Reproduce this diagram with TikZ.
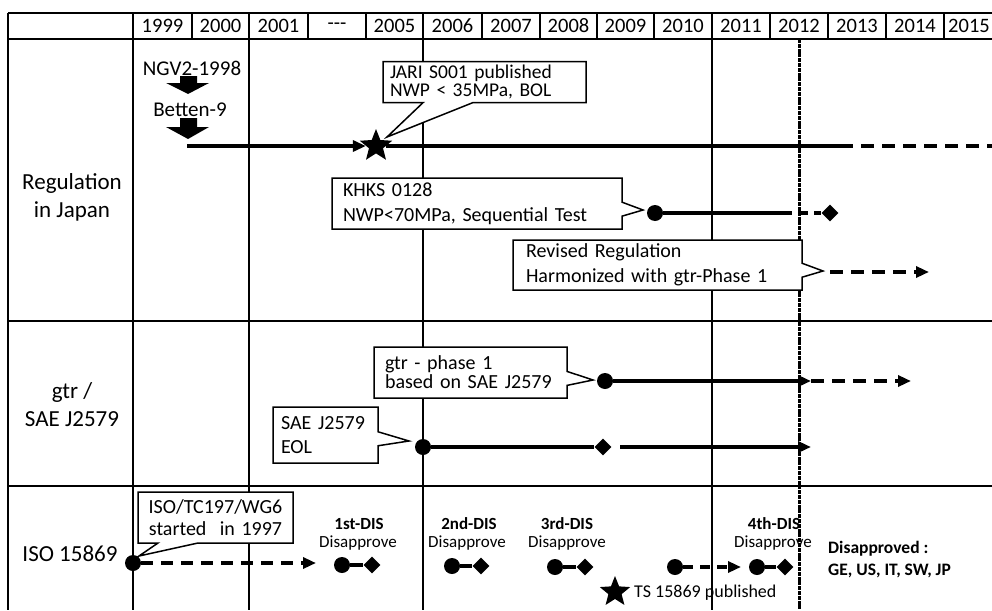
\documentclass[tikz,border=0pt]{standalone}
\usepackage{fontspec}
\setmainfont{Carlito}
\usetikzlibrary{shapes.geometric,shapes.callouts,arrows.meta}
\begin{document}
\begin{tikzpicture}[x=1pt,y=-1pt,
  grid/.style={line width=1.5pt},
  tl/.style={line width=3.2pt},
  tldash/.style={line width=3.2pt,dash pattern=on 13pt off 8pt},
  arr/.style={-{Triangle[length=13pt,width=11pt]}},
  yr/.style={font=\fontsize{20.5}{22}\selectfont,inner sep=0pt},
  lbl/.style={font=\fontsize{23}{28}\selectfont,align=center,inner sep=0pt},
  txt/.style={font=\fontsize{21}{22}\selectfont,inner sep=0pt},
  callbox/.style={rectangle callout,draw,line width=1.5pt,fill=white,align=left,
    inner xsep=10pt,inner ysep=1pt},
  cfont/.style={font=\fontsize{20}{#1}\selectfont},
  dotc/.style={circle,fill,inner sep=0pt,minimum size=16pt},
  diam/.style={diamond,fill,inner sep=0pt,minimum size=17pt},
  starc/.style={star,star points=5,star point ratio=2.3,fill,inner sep=0pt,minimum size=34pt},
  dis/.style={font=\fontsize{17}{18}\selectfont\bfseries,inner sep=0pt},
  disap/.style={font=\fontsize{17}{18}\selectfont,inner sep=0pt},
  bold/.style={font=\fontsize{17.5}{22}\selectfont\bfseries,align=left,inner sep=0pt},
  vdash/.style={line width=3pt,dash pattern=on 4pt off 0.8pt}
]
\useasboundingbox (0,0) rectangle (992,610);
% ---------------- grid
\draw[grid] (8,13) -- (992,13);
\draw[grid] (8,39) -- (992,39);
\draw[grid] (8,321) -- (992,321);
\draw[grid] (8,486) -- (992,486);
\draw[grid] (8,13) -- (8,610);
\draw[grid] (133,13) -- (133,610);
\foreach \x in {249,423,712} {\draw[grid] (\x,13) -- (\x,610);}
\foreach \x in {192,308,366,482,540,597,654,770,828,886,944} {\draw[grid] (\x,13) -- (\x,39);}
\draw[vdash] (799,39) -- (799,610);
% ---------------- header
\node[yr] (y1999) at (162.5,26) {1999};
\node[yr] (y2000) at (220.5,26) {2000};
\node[yr] (y2001) at (278.5,26) {2001};
\node[yr] (ydots) at (337,26) {{-}{-}{-}};
\node[yr] (y2005) at (394.5,26) {2005};
\node[yr] (y2006) at (452.5,26) {2006};
\node[yr] (y2007) at (511,26) {2007};
\node[yr] (y2008) at (568.5,26) {2008};
\node[yr] (y2009) at (625.5,26) {2009};
\node[yr] (y2010) at (683,26) {2010};
\node[yr] (y2011) at (741,26) {2011};
\node[yr] (y2012) at (799,26) {2012};
\node[yr] (y2013) at (857,26) {2013};
\node[yr] (y2014) at (915,26) {2014};
\node[yr] (y2015) at (969,26) {2015};
% ---------------- row labels
\node[lbl] (rjapan) at (72,197) {Regulation\\in Japan};
\node[lbl] (rgtr) at (72,405) {gtr /\\SAE J2579};
\node[lbl] (riso) at (70,554) {ISO 15869};
% ---------------- Japan row
\node[txt] (ngv) at (192,68) {NGV2-1998};
\node[txt] (betten) at (190,110) {Betten-9};
\fill (180,76) -- (197,76) -- (197,83) -- (209,83) -- (188,94) -- (166,83) -- (180,83) -- cycle;
\fill (180,118) -- (197,118) -- (197,127) -- (209,127) -- (188,139) -- (166,127) -- (180,127) -- cycle;
\coordinate (jstart) at (187,146);
\node[starc] (jstar) at (376,146) {};
\coordinate (jsolid) at (840,146);
\coordinate (jend) at (992,146);
\draw[tl,arr] (jstart) -- (jstar);
\draw[tl] (jstar) -- (jsolid);
\draw[tldash] (jsolid) -- (jend);
\node[callbox,font=\fontsize{19.5}{18.5}\selectfont,inner xsep=7pt,text width=189pt,minimum height=41pt,callout pointer width=50pt,
  callout absolute pointer={(387,137)}] (jari) at (484.5,82)
  {JARI S001 published\\NWP < 35MPa, BOL};
% KHKS
\node[dotc] (kdot) at (655,213) {};
\coordinate (kmid) at (782,213);
\node[diam] (kdia) at (830,213) {};
\draw[tl] (kdot) -- (kmid);
\draw[tldash,dash pattern=on 10pt off 6pt] (kmid) -- (kdia);
\node[callbox,cfont=25,inner xsep=11pt,text width=268pt,minimum height=51pt,callout pointer width=14pt,
  callout absolute pointer={(643,210)}] (khks) at (477,203.5)
  {KHKS 0128\\NWP<70MPa, Sequential Test};
% Revised
\node[callbox,cfont=25,inner xsep=13pt,text width=263pt,minimum height=50pt,callout pointer width=14pt,
  callout absolute pointer={(823,271)}] (rev) at (657.5,265)
  {Revised Regulation\\Harmonized with gtr-Phase 1};
\coordinate (revs) at (830,272);
\coordinate (reve) at (929,272);
\draw[tldash,arr] (revs) -- (reve);
% ---------------- gtr row
\node[dotc] (gdot) at (605,381) {};
\coordinate (gmid) at (811,381);
\coordinate (gend) at (911,381);
\draw[tl,arr] (gdot) -- (gmid);
\draw[tldash,arr] (gmid) -- (gend);
\node[callbox,cfont=19,inner xsep=11pt,text width=171pt,minimum height=51pt,callout pointer width=14pt,
  callout absolute pointer={(593,380)}] (gtrc) at (470.5,372.5)
  {gtr - phase 1\\based on SAE J2579};
\node[dotc] (sdot) at (423,447) {};
\node[diam] (sdia) at (603,447) {};
\coordinate (sres) at (620,447);
\coordinate (send) at (811,447);
\draw[tl] (sdot) -- (sdia);
\draw[tl,arr] (sres) -- (send);
\node[callbox,cfont=24,inner xsep=8pt,text width=89pt,minimum height=56pt,callout pointer width=14pt,
  callout absolute pointer={(409,441)}] (sae) at (325.5,435)
  {SAE~J2579\\EOL};
% ---------------- ISO row
\node[dotc] (idot) at (133,563) {};
\coordinate (iend) at (316,563);
\draw[tldash,dash pattern=on 12pt off 8pt,arr] (idot) -- (iend);
\node[callbox,cfont=21.5,align=center,inner xsep=6pt,text width=143pt,minimum height=51pt,callout pointer width=40pt,
  callout absolute pointer={(139,556)}] (isoc) at (215.5,517.5)
  {ISO/TC197/WG6\\started\ \ in 1997};
% DIS
\node[dis] (dis1) at (359,524) {1st-DIS};
\node[disap] (dap1) at (358,543) {Disapprove};
\node[dotc] (d1a) at (342,565) {};
\node[diam] (d1b) at (372,565) {};
\draw[tl] (d1a) -- (d1b);
\node[dis] (dis2) at (469,524) {2nd-DIS};
\node[disap] (dap2) at (467,543) {Disapprove};
\node[dotc] (d2a) at (452,566) {};
\node[diam] (d2b) at (481,566) {};
\draw[tl] (d2a) -- (d2b);
\node[dis] (dis3) at (567,524) {3rd-DIS};
\node[disap] (dap3) at (567,543) {Disapprove};
\node[dotc] (d3a) at (555,567) {};
\node[diam] (d3b) at (585,567) {};
\draw[tl] (d3a) -- (d3b);
\node[starc,minimum size=32pt] (tsstar) at (615,592) {};
\node[txt,anchor=west,font=\fontsize{18}{19}\selectfont] (tstxt) at (634,593) {TS 15869 published};
\node[dotc] (d4s) at (675,567) {};
\coordinate (d4e) at (741,567);
\draw[tldash,dash pattern=on 10pt off 7pt,arr] (d4s) -- (d4e);
\node[dis] (dis4) at (774,524) {4th-DIS};
\node[disap] (dap4) at (773,543) {Disapprove};
\node[dotc] (d4a) at (757,567) {};
\node[diam] (d4b) at (785,567) {};
\draw[tl] (d4a) -- (d4b);
\node[bold,anchor=north west] (disd) at (828,541) {Disapproved :\\GE, US, IT, SW, JP};
\end{tikzpicture}
\end{document}
